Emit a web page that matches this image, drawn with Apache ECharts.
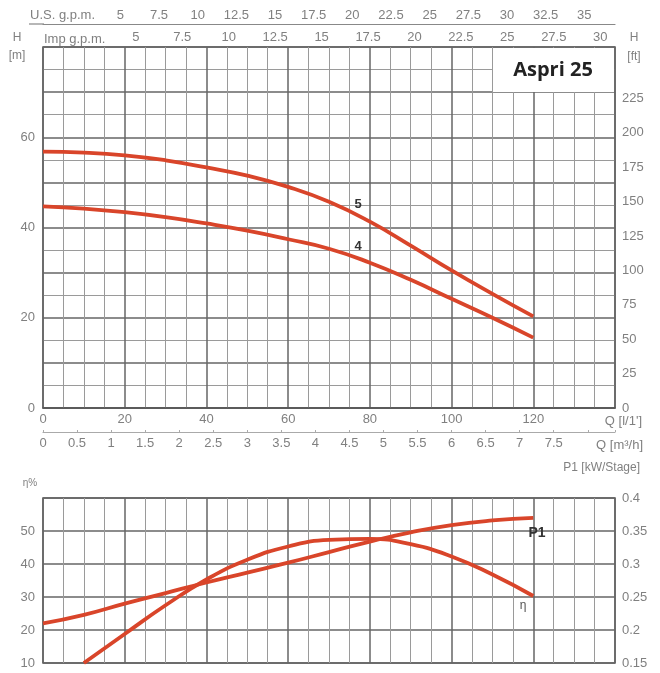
<!DOCTYPE html>
<html>
<head>
<meta charset="utf-8">
<script src="https://cdn.jsdelivr.net/npm/echarts@6/dist/echarts.min.js"></script>
<style>
html,body{margin:0;padding:0;background:#fff;}
#c{width:660px;height:673px;}
</style>
</head>
<body>
<div id="c"></div>
<script>
// ---- data (flow in l/min) ----
var flowLpm = [0, 10, 20, 30, 40, 50, 60, 70, 80, 90, 100, 110, 120];
var head5 = [56.8, 56.6, 56.0, 54.9, 53.3, 51.5, 49.0, 45.7, 41.3, 36.0, 30.5, 25.3, 20.3];
var head4 = [44.7, 44.2, 43.4, 42.3, 40.9, 39.3, 37.4, 35.3, 32.2, 28.4, 24.2, 20.0, 15.6];
var effFlow = [10, 20, 30, 40, 50, 60, 70, 80, 90, 100, 110, 120];
var efficiency = [10, 18.8, 27.5, 35.3, 41.3, 45.3, 47.3, 47.6, 46.0, 42.3, 36.8, 30.3];
var powerP1 = [0.21, 0.223, 0.240, 0.256, 0.272, 0.287, 0.302, 0.318, 0.334, 0.348, 0.359, 0.366, 0.370];

var usGpmTicks = [5, 7.5, 10, 12.5, 15, 17.5, 20, 22.5, 25, 27.5, 30, 32.5, 35];
var impGpmTicks = [5, 7.5, 10, 12.5, 15, 17.5, 20, 22.5, 25, 27.5, 30];
var m3hTicks = [0, 0.5, 1, 1.5, 2, 2.5, 3, 3.5, 4, 4.5, 5, 5.5, 6, 6.5, 7, 7.5];
var lpmTicks = [0, 20, 40, 60, 80, 100, 120];
var headTicks = [0, 20, 40, 60];
var ftTicks = [0, 25, 50, 75, 100, 125, 150, 175, 200, 225];
var effTicks = [10, 20, 30, 40, 50];
var p1Ticks = [0.15, 0.2, 0.25, 0.3, 0.35, 0.4];

var LPM_PER_USGPM = 3.785411784;
var LPM_PER_IMPGPM = 4.54609;
var LPM_PER_M3H = 1000 / 60;
var M_PER_FT = 0.3048;

function pairs(xs, ys) { return xs.map(function (x, i) { return [x, ys[i]]; }); }
function inList(list, v) {
  for (var i = 0; i < list.length; i++) { if (Math.abs(list[i] - v) < 1e-6) return list[i]; }
  return null;
}
function fmtFrom(list) {
  return function (v) { var r = inList(list, v); return r === null ? '' : String(r); };
}

var FONT = 'Liberation Sans';
var LBL = { color: '#808080', fontFamily: FONT, fontSize: 13 };
var RED = '#d9452a';
var MAJOR = { color: '#666', width: 1.5 };
var MINOR = { color: '#9a9a9a', width: 1 };

var chart = echarts.init(document.getElementById('c'), null, { renderer: 'canvas' });

function lbl(extra) { return Object.assign({}, LBL, extra); }
function curve(name, xi, yi, data) {
  return { name: name, type: 'line', xAxisIndex: xi, yAxisIndex: yi, data: data,
    smooth: 0.5, showSymbol: false, symbol: 'none',
    lineStyle: { color: RED, width: 3.8 }, z: 5 };
}

var option = {
  animation: false,
  backgroundColor: '#fff',
  grid: [
    { left: 43, top: 47, width: 572, height: 361, show: true, borderColor: '#555', borderWidth: 1.5 },
    { left: 43, top: 498, width: 572, height: 165, show: true, borderColor: '#555', borderWidth: 1.5 }
  ],
  xAxis: [
    { // 0: l/min (top chart)
      gridIndex: 0, type: 'value', position: 'bottom', min: 0, max: 140, interval: 20,
      axisLine: { show: true, onZero: false, lineStyle: { color: '#555', width: 1.5 } },
      axisTick: { show: false },
      axisLabel: lbl({ margin: 5, formatter: fmtFrom(lpmTicks) }),
      splitLine: { show: true, lineStyle: MAJOR },
      minorTick: { show: false, splitNumber: 4 },
      minorSplitLine: { show: true, lineStyle: MINOR }
    },
    { // 1: US gpm
      gridIndex: 0, type: 'value', position: 'top', offset: 23, min: 0, max: 140 / LPM_PER_USGPM, interval: 2.5,
      axisLine: { show: true, onZero: false, lineStyle: { color: '#888', width: 1.2 } },
      axisTick: { show: false },
      axisLabel: lbl({ margin: 2, formatter: fmtFrom(usGpmTicks) }),
      splitLine: { show: false }
    },
    { // 2: Imp gpm
      gridIndex: 0, type: 'value', position: 'top', offset: 0, min: 0, max: 140 / LPM_PER_IMPGPM, interval: 2.5,
      axisLine: { show: false, onZero: false },
      axisTick: { show: false },
      axisLabel: lbl({ margin: 3, formatter: fmtFrom(impGpmTicks) }),
      splitLine: { show: false }
    },
    { // 3: m3/h
      gridIndex: 0, type: 'value', position: 'bottom', offset: 24, min: 0, max: 140 / LPM_PER_M3H, interval: 0.5,
      axisLine: { show: true, onZero: false, lineStyle: { color: '#aaa', width: 1.2 } },
      axisTick: { show: true, inside: true, length: 2, lineStyle: { color: '#aaa' } },
      axisLabel: lbl({ margin: 5, formatter: fmtFrom(m3hTicks) }),
      splitLine: { show: false }
    },
    { // 4: l/min (bottom chart)
      gridIndex: 1, type: 'value', position: 'bottom', min: 0, max: 140, interval: 20,
      axisLine: { show: false, onZero: false },
      axisTick: { show: false },
      axisLabel: { show: false },
      splitLine: { show: true, lineStyle: MAJOR },
      minorTick: { show: false, splitNumber: 4 },
      minorSplitLine: { show: true, lineStyle: MINOR }
    }
  ],
  yAxis: [
    { // 0: H m
      gridIndex: 0, type: 'value', position: 'left', min: 0, max: 80, interval: 10,
      axisLine: { show: false, onZero: false },
      axisTick: { show: false },
      axisLabel: lbl({ margin: 8, formatter: fmtFrom(headTicks) }),
      splitLine: { show: true, lineStyle: MAJOR },
      minorTick: { show: false, splitNumber: 2 },
      minorSplitLine: { show: true, lineStyle: MINOR }
    },
    { // 1: H ft
      gridIndex: 0, type: 'value', position: 'right', min: 0, max: 80 / M_PER_FT, interval: 25,
      axisLine: { show: false, onZero: false },
      axisTick: { show: false },
      axisLabel: lbl({ margin: 7, formatter: fmtFrom(ftTicks) }),
      splitLine: { show: false }
    },
    { // 2: efficiency %
      gridIndex: 1, type: 'value', position: 'left', min: 10, max: 60, interval: 10,
      axisLine: { show: false, onZero: false },
      axisTick: { show: false },
      axisLabel: lbl({ margin: 8, formatter: fmtFrom(effTicks) }),
      splitLine: { show: true, lineStyle: MAJOR }
    },
    { // 3: P1 kW
      gridIndex: 1, type: 'value', position: 'right', min: 0.15, max: 0.4, interval: 0.05,
      axisLine: { show: false, onZero: false },
      axisTick: { show: false },
      axisLabel: lbl({ margin: 7, formatter: fmtFrom(p1Ticks) }),
      splitLine: { show: false }
    }
  ],
  series: [
    curve('5', 0, 0, pairs(flowLpm, head5)),
    curve('4', 0, 0, pairs(flowLpm, head4)),
    curve('eta', 4, 2, pairs(effFlow, efficiency)),
    curve('P1', 4, 3, pairs(flowLpm, powerP1))
  ],
  graphic: [
    { type: 'line', shape: { x1: 29, y1: 24, x2: 44, y2: 24 }, style: { stroke: '#888', lineWidth: 1.2 } },
    { type: 'text', x: 30, y: 15, style: { text: 'U.S. g.p.m.', font: '13px ' + FONT, fill: '#808080', textVerticalAlign: 'middle' } },
    { type: 'text', x: 44, y: 39, style: { text: 'Imp g.p.m.', font: '13px ' + FONT, fill: '#808080', textVerticalAlign: 'middle' } },
    { type: 'text', x: 17, y: 38, style: { text: 'H', font: '12px ' + FONT, fill: '#808080', textAlign: 'center', textVerticalAlign: 'middle' } },
    { type: 'text', x: 17, y: 56, style: { text: '[m]', font: '12px ' + FONT, fill: '#808080', textAlign: 'center', textVerticalAlign: 'middle' } },
    { type: 'text', x: 634, y: 38, style: { text: 'H', font: '12px ' + FONT, fill: '#808080', textAlign: 'center', textVerticalAlign: 'middle' } },
    { type: 'text', x: 634, y: 57, style: { text: '[ft]', font: '12px ' + FONT, fill: '#808080', textAlign: 'center', textVerticalAlign: 'middle' } },
    { type: 'text', x: 642, y: 421, style: { text: "Q [l/1']", font: '13px ' + FONT, fill: '#808080', textAlign: 'right', textVerticalAlign: 'middle' } },
    { type: 'text', x: 643, y: 445, style: { text: 'Q [m³/h]', font: '13px ' + FONT, fill: '#808080', textAlign: 'right', textVerticalAlign: 'middle' } },
    { type: 'text', x: 640, y: 468, style: { text: 'P1 [kW/Stage]', font: '12px ' + FONT, fill: '#808080', textAlign: 'right', textVerticalAlign: 'middle' } },
    { type: 'text', x: 30, y: 483, style: { text: 'η%', font: '10px ' + FONT, fill: '#808080', textAlign: 'center', textVerticalAlign: 'middle' } },
    { type: 'text', x: 358, y: 204, z: 10, style: { text: '5', font: 'bold 13px ' + FONT, fill: '#333', textAlign: 'center', textVerticalAlign: 'middle' } },
    { type: 'text', x: 358, y: 246, z: 10, style: { text: '4', font: 'bold 13px ' + FONT, fill: '#333', textAlign: 'center', textVerticalAlign: 'middle' } },
    { type: 'text', x: 537, y: 533, z: 10, style: { text: 'P1', font: 'bold 14px ' + FONT, fill: '#333', textAlign: 'center', textVerticalAlign: 'middle' } },
    { type: 'text', x: 523, y: 606, z: 10, style: { text: 'η', font: '12px ' + FONT, fill: '#555', textAlign: 'center', textVerticalAlign: 'middle' } },
    { type: 'rect', z: 20, shape: { x: 493, y: 48, width: 121, height: 44 }, style: { fill: '#fff', stroke: null } },
    { type: 'text', z: 21, x: 553, y: 70, style: { text: 'Aspri 25', font: 'bold 20px "Open Sans"', fill: '#222', textAlign: 'center', textVerticalAlign: 'middle' } }
  ]
};
chart.setOption(option);
</script>
</body>
</html>
